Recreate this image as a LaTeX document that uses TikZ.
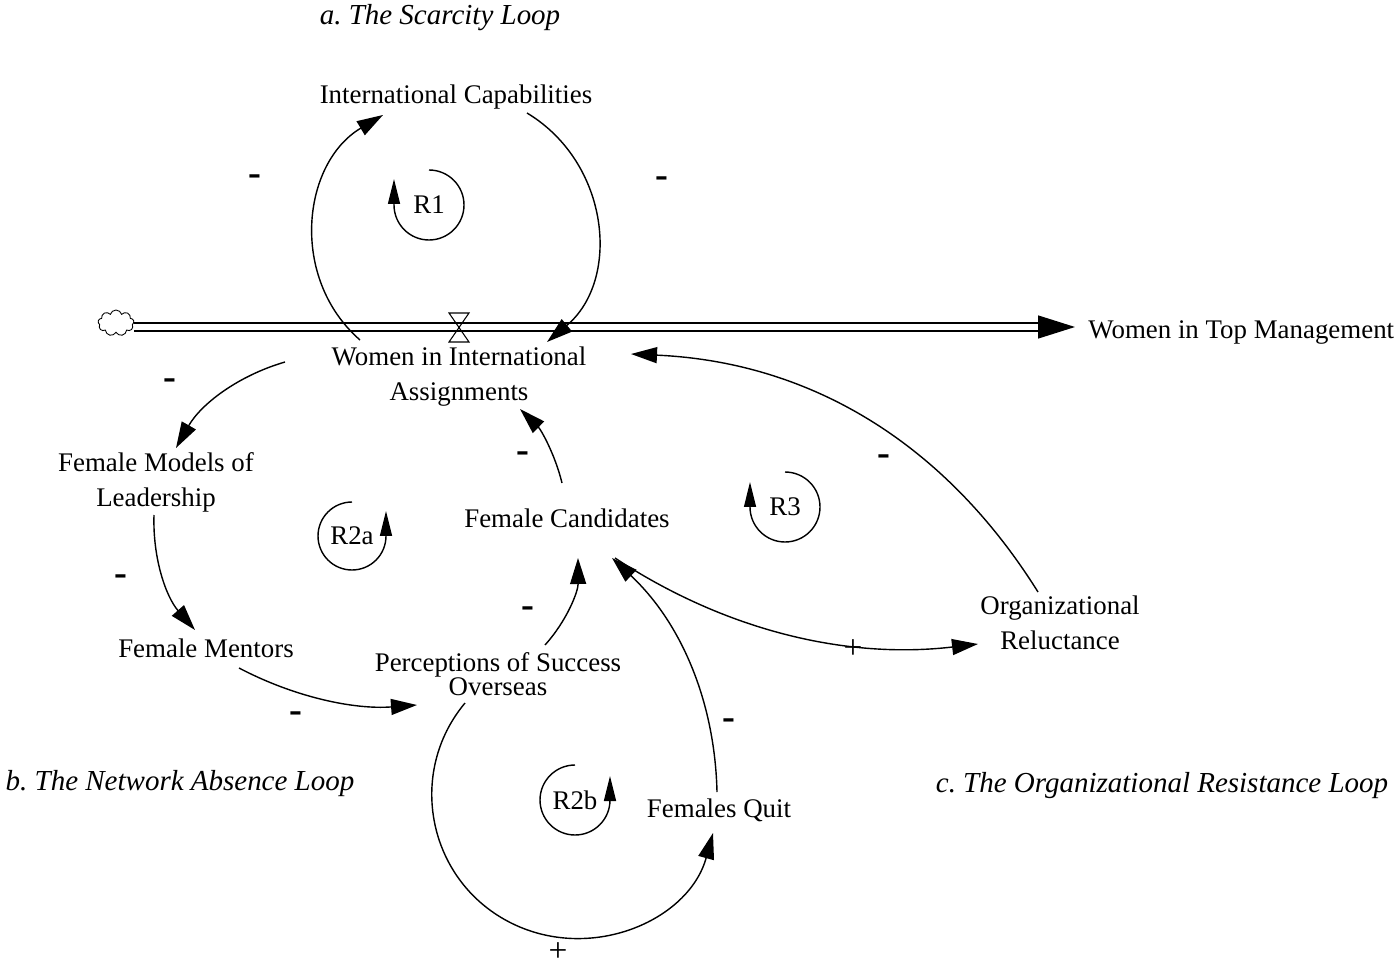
\documentclass[tikz,border=0pt]{standalone}
\usepackage{fontspec}
\setmainfont{Liberation Serif}
\usetikzlibrary{arrows.meta,shapes.symbols}
\frenchspacing

\begin{document}
\begin{tikzpicture}[
    x=0.02cm, y=-0.02cm,
    var/.style={font=\fontsize{15.3}{20}\selectfont, align=center, inner sep=1pt},
    caption/.style={font=\fontsize{16.5}{20}\selectfont\itshape},
    minussign/.style={font=\fontsize{22}{22}\selectfont\bfseries, inner sep=0pt},
    plussign/.style={font=\fontsize{19}{19}\selectfont, inner sep=0pt},
    loopname/.style={font=\fontsize{15.3}{20}\selectfont, inner sep=0pt},
    link/.style={line width=0.8pt, -{Triangle[length=0.52cm, width=0.32cm]}},
    loopline/.style={line width=0.8pt, -{Triangle[length=0.5cm, width=0.24cm]}},
    pipe/.style={double, double distance=0.13cm, line width=0.8pt},
    flowhead/.style={line width=0.8pt, -{Triangle[length=0.74cm, width=0.46cm]}}
  ]
  \useasboundingbox (0,0) rectangle (1398,969);

  % loop captions
  \node[caption] (capa) at (440,18) {a. The Scarcity Loop};
  \node[caption] (capb) at (180,784) {b. The Network Absence Loop};
  \node[caption] (capc) at (1162,786) {c. The Organizational Resistance Loop};

  % variables
  \node[var] (ic)  at (456,97)  {International Capabilities};
  \node[var] (wia) at (459,377) {Women in International\\Assignments};
  \node[var] (fml) at (156,482) {Female Models of\\Leadership};
  \node[var] (fm)  at (206,648) {Female Mentors};
  \node[var] (pso) at (498,674) {Perceptions of Success\\[-6.3pt]Overseas};
  \node[var] (fc)  at (567,518) {Female Candidates};
  \node[var] (orl) at (1060,623) {Organizational\\Reluctance};
  \node[var] (fq)  at (719,810) {Females Quit};
  \node[var, anchor=west, inner xsep=0.26cm, inner ysep=0pt] (wtm) at (1075,333) {Women in Top Management};

  % stock and flow
  \node[cloud, draw, cloud puffs=9, cloud ignores aspect, minimum width=0.72cm, minimum height=0.52cm,
        inner sep=0pt, line width=0.5pt] (src) at (116,323) {};
  \coordinate (pipeend) at (1038,327);
  \coordinate (valve) at (459,327);
  \draw[pipe] (src.east |- pipeend) -- (pipeend);
  \draw[flowhead] (pipeend) -- (pipeend -| wtm.west);
  \draw[line width=0.6pt] ([shift={(-10,-14)}]valve) -- ++(20,0) -- ++(-20,29) -- ++(20,0) -- cycle;

  % a. scarcity loop
  \draw[link] ([shift={(-99,-37)}]wia.center) .. controls +(-71,-62) and +(-81,48) .. ([shift={(-73,18)}]ic.center);
  \draw[link] ([shift={(71,16)}]ic.center) .. controls +(83,50) and +(74,-62) .. ([shift={(88,-35)}]wia.center);

  % b. network absence loop
  \draw[link] ([shift={(-174,-15)}]wia.center) .. controls +(-47.9,14) and +(24.7,-43.4) .. ([shift={(20,-34)}]fml.center);
  \draw[link] ([shift={(-2,33)}]fml.center) .. controls +(-1.4,43.7) and +(-28.8,-32.9) .. ([shift={(-11,-18)}]fm.center);
  \draw[link] ([shift={(33,20)}]fm.center) .. controls +(55.8,29.3) and +(-62.8,4.7) .. ([shift={(-81,31)}]pso.center);
  \draw[link] ([shift={(47,-29)}]pso.center) .. controls +(22.2,-24.7) and +(0.2,33.3) .. ([shift={(11,40)}]fc.center);
  \draw[link] ([shift={(-5,-35)}]fc.center) .. controls +(-7,-28.7) and +(21,20.7) .. ([shift={(61,32)}]wia.center);
  \draw[link] ([shift={(-33,29)}]pso.center) .. controls +(-58.5,70) and +(-80.8,-42.3) .. ++(43.6,218.7)
              .. controls +(80.8,42.3) and +(-24.2,87.9) .. ([shift={(-6,23)}]fq.center);
  \draw[link] ([shift={(-2,-18)}]fq.center) .. controls +(-2.2,-92.7) and +(67.8,63.3) .. ([shift={(45,40)}]fc.center);

  % c. organizational resistance loop
  \draw[link] ([shift={(48,40)}]fc.center) .. controls +(110.6,72.8) and +(-131.4,15.4) .. ([shift={(-82,21)}]orl.center);
  \draw[link] ([shift={(-22,-31)}]orl.center) .. controls +(-94.3,-150.7) and +(177.7,7.9) .. ([shift={(172,-23)}]wia.center);

  % loop markers
  \node[loopname] (r1)  at (429,205) {R1};
  \node[loopname] (r2a) at (352,536) {R2a};
  \node[loopname] (r3)  at (785,507) {R3};
  \node[loopname] (r2b) at (575,800) {R2b};
  \draw[loopline] ([yshift=0.7cm]r1.center) arc[start angle=90, end angle=-180, radius=0.7cm] -- ++(0,-26);
  \draw[loopline] ([yshift=0.68cm]r2a.center) arc[start angle=90, end angle=360, radius=0.68cm] -- ++(0,-25);
  \draw[loopline] ([yshift=0.7cm]r3.center) arc[start angle=90, end angle=-180, radius=0.7cm] -- ++(0,-25);
  \draw[loopline] ([yshift=0.7cm]r2b.center) arc[start angle=90, end angle=360, radius=0.7cm] -- ++(0,-24);

  % polarities
  \foreach \sx/\sy [count=\i] in {255/180, 662/182, 170/384, 121/580, 296/717, 528/612, 523/457, 884/460, 729/724}
    \node[minussign] (minus\i) at (\sx,\sy) {-};
  \foreach \sx/\sy [count=\i] in {853/649, 558/952}
    \node[plussign] (plus\i) at (\sx,\sy) {+};
\end{tikzpicture}
\end{document}
